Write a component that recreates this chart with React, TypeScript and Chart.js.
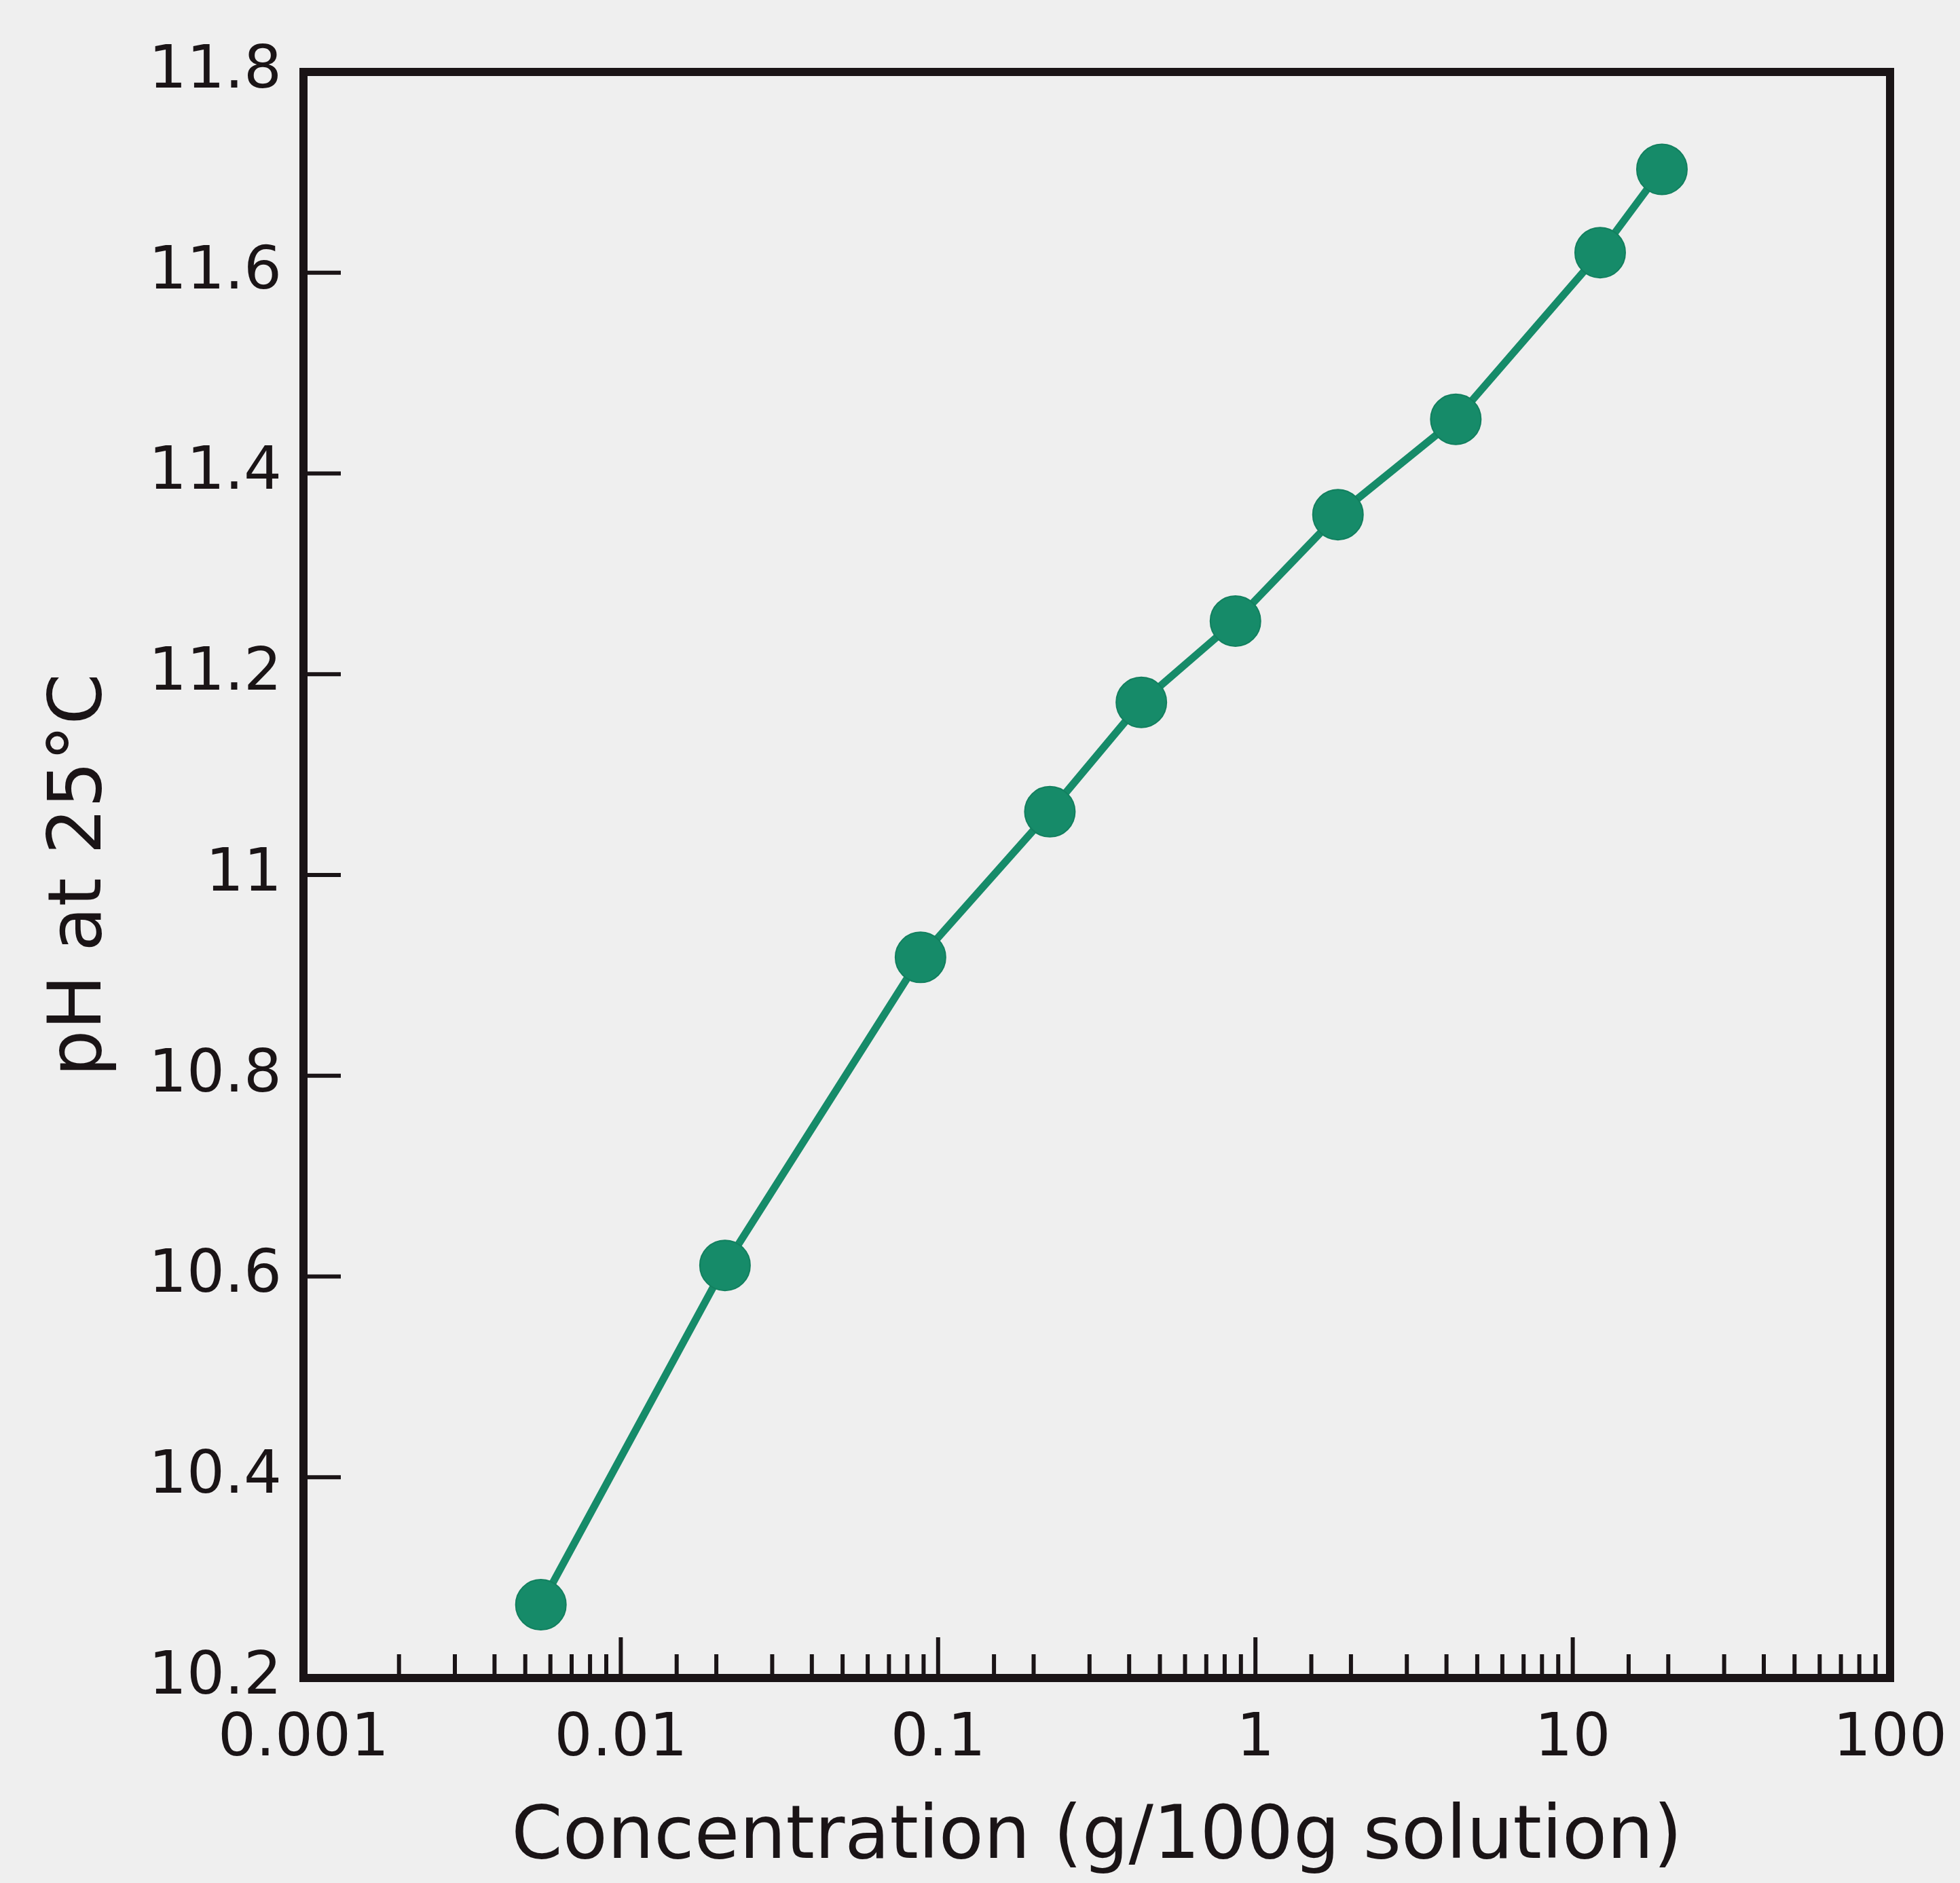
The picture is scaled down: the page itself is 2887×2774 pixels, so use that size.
import React, { useEffect, useRef } from "react";
import { Chart, registerables } from "chart.js";

Chart.register(...registerables);

// ---- data ----
const concentrations = [0.0056, 0.0213, 0.088, 0.225, 0.437, 0.865, 1.82, 4.28, 12.2, 19.1];
const phValues = [10.273, 10.611, 10.918, 11.063, 11.172, 11.253, 11.359, 11.454, 11.62, 11.703];

const xMin = 0.001;
const xMax = 100;
const yMin = 10.2;
const yMax = 11.8;
const yStep = 0.2;

const xTickLabels = ["0.001", "0.01", "0.1", "1", "10", "100"];
const xTitle = "Concentration (g/100g solution)";
const yTitle = "pH at 25°C";

const GREEN = "#168b69";
const INK = "#1a1416";
const FONT = "'DejaVu Sans', sans-serif";

function isPow10(v: number) {
  const l = Math.log10(v);
  return Math.abs(l - Math.round(l)) < 1e-9;
}

const framePlugin = {
  id: "frameAndTicks",
  beforeDraw(chart: any) {
    const ctx = chart.ctx;
    ctx.save();
    ctx.fillStyle = "#efefef";
    ctx.fillRect(0, 0, chart.width, chart.height);
    ctx.restore();
  },
  afterDraw(chart: any) {
    const ctx = chart.ctx;
    const { left, right, top, bottom } = chart.chartArea;
    const xs = chart.scales.x;
    const ys = chart.scales.y;
    ctx.save();
    ctx.strokeStyle = INK;
    ctx.lineCap = "butt";
    ctx.lineWidth = 6;
    for (const t of xs.ticks) {
      const v = t.value;
      if (v <= xMin || v >= xMax) continue;
      const px = xs.getPixelForValue(v);
      const len = isPow10(v) ? 60 : 35;
      ctx.beginPath();
      ctx.moveTo(px, bottom);
      ctx.lineTo(px, bottom - len);
      ctx.stroke();
    }
    for (const t of ys.ticks) {
      if (t.value <= yMin || t.value >= yMax) continue;
      const py = ys.getPixelForValue(t.value);
      ctx.beginPath();
      ctx.moveTo(left, py);
      ctx.lineTo(left + 55, py);
      ctx.stroke();
    }
    ctx.lineWidth = 12;
    ctx.lineJoin = "miter";
    ctx.strokeRect(left, top, right - left, bottom - top);
    ctx.restore();
  },
};

export default function App() {
  const ref = useRef<HTMLCanvasElement | null>(null);

  useEffect(() => {
    if (!ref.current) return;
    document.body.style.margin = "0";
    const chart = new Chart(ref.current, {
      type: "scatter",
      data: {
        datasets: [
          {
            data: concentrations.map((c, i) => ({ x: c, y: phValues[i] })),
            showLine: true,
            borderColor: GREEN,
            borderWidth: 11,
            backgroundColor: GREEN,
            pointBackgroundColor: GREEN,
            pointBorderColor: "#12805f",
            pointBorderWidth: 2,
            pointRadius: 37,
            pointHoverRadius: 37,
            clip: false,
          },
        ],
      },
      options: {
        responsive: false,
        animation: false,
        devicePixelRatio: 1,
        layout: { padding: { top: 106, right: 103, left: 0, bottom: 0 } },
        plugins: { legend: { display: false }, tooltip: { enabled: false } },
        scales: {
          x: {
            type: "logarithmic",
            min: xMin,
            max: xMax,
            grid: { display: false, drawTicks: false },
            border: { display: false },
            afterFit(scale: any) {
              scale.height = 2774 - 2472;
              scale.paddingLeft = 0;
              scale.paddingRight = 0;
            },
            ticks: {
              autoSkip: false,
              maxRotation: 0,
              minRotation: 0,
              padding: 38,
              color: INK,
              font: { family: FONT, size: 88 },
              callback: (v: any) => {
                const n = Number(v);
                if (!isPow10(n)) return "";
                const idx = Math.round(Math.log10(n) - Math.log10(xMin));
                return xTickLabels[idx] ?? "";
              },
            },
            title: {
              display: true,
              text: xTitle,
              color: INK,
              font: { family: FONT, size: 108, lineHeight: 1.2 },
              padding: { top: 0, bottom: 0 },
            },
          },
          y: {
            type: "linear",
            min: yMin,
            max: yMax,
            grid: { display: false, drawTicks: false },
            border: { display: false },
            afterFit(scale: any) {
              scale.width = 447;
              scale.paddingTop = 0;
              scale.paddingBottom = 0;
            },
            ticks: {
              stepSize: yStep,
              padding: 32,
              color: INK,
              font: { family: FONT, size: 88 },
              callback: (v: any) => String(Number(Number(v).toFixed(1))),
            },
            title: {
              display: true,
              text: yTitle,
              color: INK,
              font: { family: FONT, size: 108, lineHeight: 1.2 },
              padding: { top: 55, bottom: 0 },
            },
          },
        },
      },
      plugins: [framePlugin],
    });
    return () => chart.destroy();
  }, []);

  return (
    <div style={{ position: "fixed", left: 0, top: 0, width: 2887, height: 2774 }}>
      <canvas ref={ref} width={2887} height={2774} style={{ width: 2887, height: 2774, display: "block" }} />
    </div>
  );
}
